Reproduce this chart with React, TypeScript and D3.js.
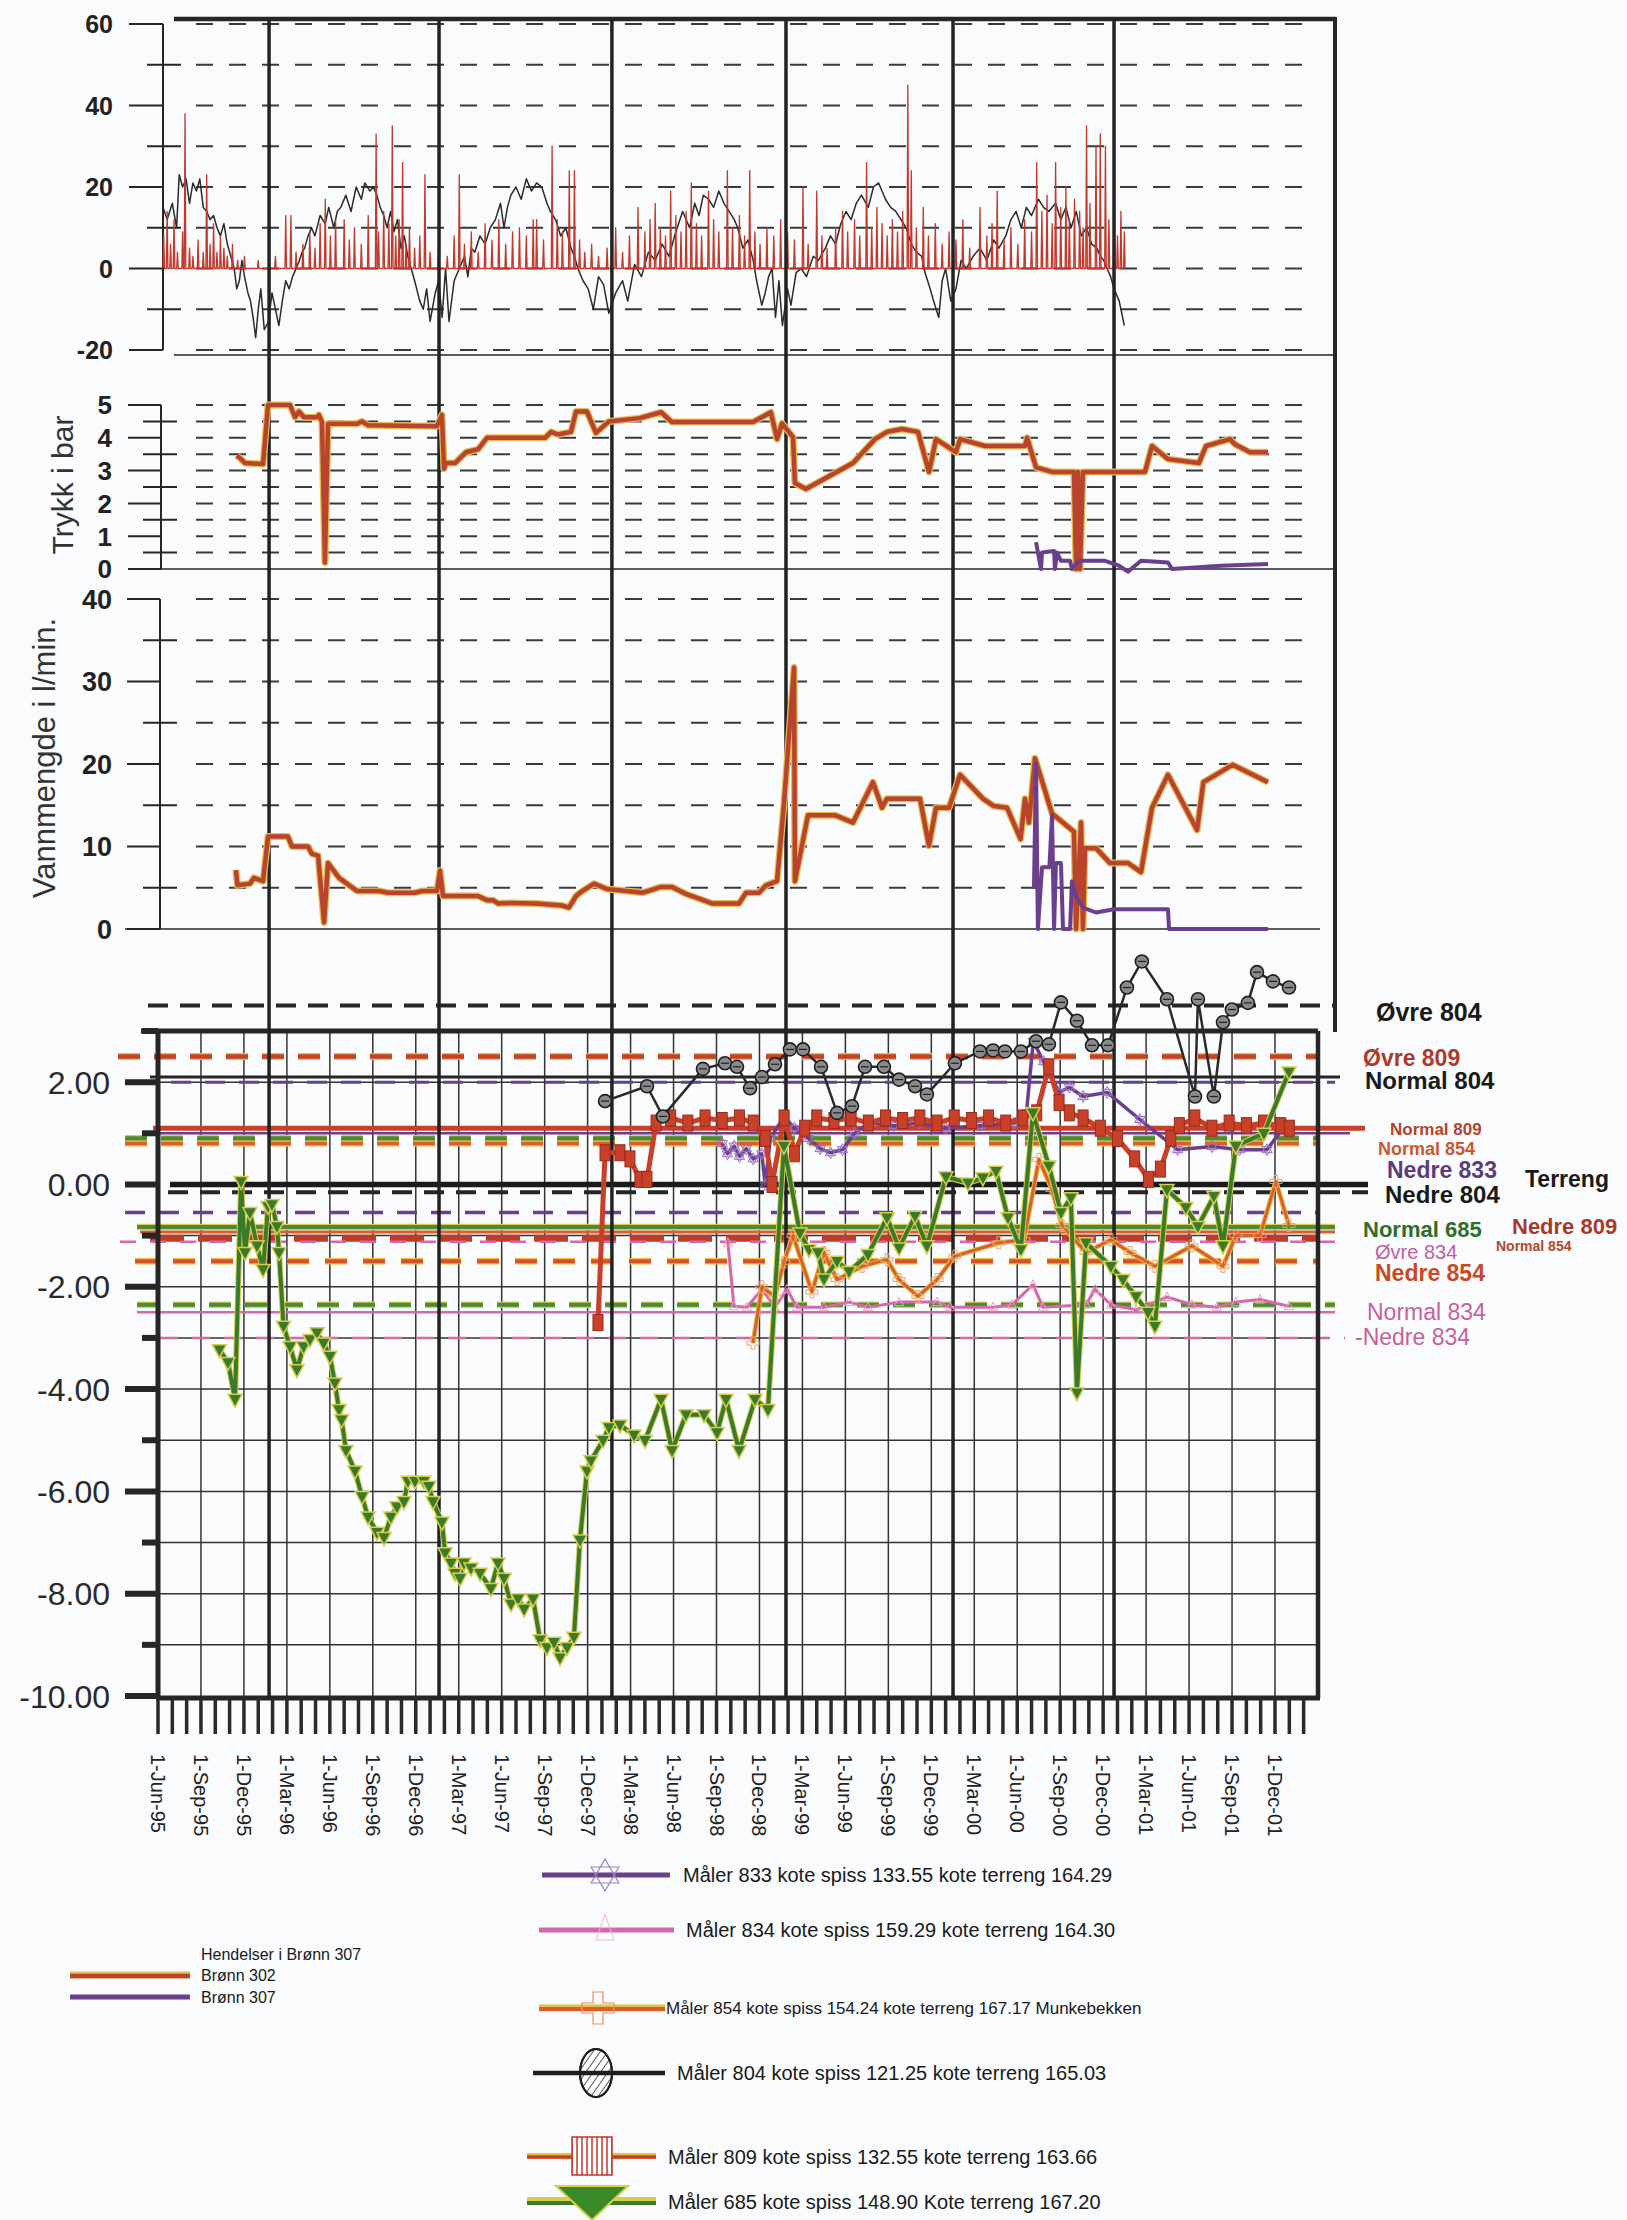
import React from "react";
import * as d3 from "d3";

type P = [number, number];

// ---------- DATA (decimal year, value) ----------
const temperature: P[] = [
  [1995.446,15],[1995.47,12],[1995.50,16],[1995.525,10],[1995.54,23],[1995.56,20],[1995.58,22],[1995.60,16],[1995.62,21],[1995.64,19],[1995.66,22],[1995.68,15],[1995.70,14],[1995.72,12],[1995.74,13],[1995.76,10],[1995.78,8],[1995.80,11],[1995.82,6],[1995.84,3],[1995.86,0],[1995.875,-5],[1995.89,-3],[1995.905,2],[1995.92,-2],[1995.94,-6],[1995.955,-8],[1995.97,-12],[1995.985,-17],[1996.0,-10],[1996.015,-5],[1996.035,-15],[1996.06,-13],[1996.08,-6],[1996.10,-10],[1996.12,-14],[1996.14,-8],[1996.16,-3],[1996.18,-5],[1996.20,-2],[1996.22,0],[1996.24,2],[1996.255,4],[1996.27,5],[1996.29,8],[1996.31,10],[1996.33,8],[1996.36,13],[1996.39,11],[1996.41,15],[1996.44,10],[1996.46,14],[1996.48,15],[1996.51,18],[1996.54,14],[1996.57,20],[1996.60,17],[1996.62,21],[1996.65,19],[1996.67,20],[1996.69,18],[1996.71,15],[1996.73,13],[1996.75,10],[1996.77,14],[1996.79,9],[1996.81,12],[1996.83,5],[1996.85,8],[1996.87,3],[1996.89,0],[1996.91,-3],[1996.94,-8],[1996.96,-10],[1996.98,-5],[1997.0,-13],[1997.03,-6],[1997.05,-3],[1997.07,-12],[1997.09,0],[1997.11,-13],[1997.14,-3],[1997.17,0],[1997.20,3],[1997.22,-2],[1997.24,5],[1997.26,4],[1997.29,8],[1997.32,6],[1997.35,10],[1997.38,12],[1997.41,16],[1997.43,10],[1997.45,15],[1997.47,18],[1997.50,20],[1997.53,17],[1997.56,22],[1997.59,19],[1997.62,21],[1997.65,20],[1997.68,16],[1997.70,14],[1997.73,12],[1997.76,8],[1997.79,10],[1997.82,5],[1997.84,3],[1997.86,0],[1997.89,-3],[1997.92,-5],[1997.95,-10],[1997.98,-2],[1998.01,-4],[1998.04,-11],[1998.08,-6],[1998.12,-3],[1998.15,-8],[1998.19,1],[1998.23,-2],[1998.27,4],[1998.31,2],[1998.35,6],[1998.39,3],[1998.43,9],[1998.47,14],[1998.51,10],[1998.54,16],[1998.565,13],[1998.59,18],[1998.62,17],[1998.65,15],[1998.68,19],[1998.71,16],[1998.74,14],[1998.77,12],[1998.79,10],[1998.82,5],[1998.85,7],[1998.88,2],[1998.90,-3],[1998.93,-9],[1998.95,-6],[1998.97,-2],[1998.99,0],[1999.01,-12],[1999.03,-3],[1999.05,-14],[1999.08,-5],[1999.10,-9],[1999.13,-1],[1999.16,0],[1999.19,-2],[1999.23,3],[1999.26,2],[1999.30,5],[1999.33,8],[1999.36,6],[1999.39,11],[1999.42,14],[1999.45,12],[1999.48,16],[1999.51,18],[1999.55,15],[1999.58,20],[1999.61,21],[1999.65,17],[1999.68,15],[1999.71,14],[1999.74,12],[1999.77,10],[1999.80,6],[1999.83,4],[1999.86,3],[1999.88,-1],[1999.91,-5],[1999.93,-8],[1999.96,-12],[1999.98,-3],[2000.0,0],[2000.03,-8],[2000.06,-5],[2000.09,2],[2000.12,0],[2000.16,3],[2000.20,5],[2000.24,2],[2000.28,7],[2000.31,5],[2000.35,8],[2000.38,12],[2000.41,14],[2000.44,10],[2000.47,15],[2000.50,13],[2000.54,17],[2000.57,15],[2000.60,14],[2000.64,16],[2000.67,12],[2000.70,15],[2000.73,10],[2000.76,14],[2000.79,8],[2000.82,10],[2000.85,6],[2000.88,5],[2000.90,3],[2000.92,2],[2000.94,0],[2000.96,-2],[2000.98,-5],[2001.01,-8],[2001.04,-14]
];

const precipitation: P[] = [
  [1995.45,8],[1995.47,14],[1995.49,6],[1995.51,12],[1995.53,4],[1995.56,9],[1995.574,38],[1995.60,5],[1995.62,3],[1995.65,7],[1995.68,4],[1995.70,23],[1995.72,6],[1995.74,11],[1995.76,4],[1995.78,8],[1995.80,5],[1995.82,3],[1995.85,6],[1995.88,2],[1995.92,3],[1996.0,2],[1996.10,3],[1996.16,13],[1996.19,13],[1996.22,4],[1996.26,6],[1996.30,9],[1996.33,5],[1996.36,11],[1996.39,17],[1996.42,8],[1996.45,12],[1996.50,12],[1996.53,7],[1996.56,10],[1996.60,6],[1996.64,13],[1996.686,33],[1996.70,9],[1996.73,14],[1996.76,11],[1996.78,35],[1996.80,8],[1996.82,12],[1996.84,26],[1996.86,6],[1996.88,10],[1996.91,5],[1996.94,8],[1996.97,23],[1997.00,4],[1997.05,6],[1997.10,3],[1997.14,8],[1997.17,23],[1997.20,6],[1997.24,9],[1997.28,4],[1997.32,11],[1997.36,7],[1997.40,12],[1997.44,6],[1997.48,9],[1997.52,10],[1997.56,8],[1997.60,12],[1997.62,12],[1997.66,7],[1997.71,30],[1997.74,12],[1997.77,9],[1997.81,24],[1997.84,24],[1997.87,7],[1997.90,4],[1997.94,6],[1997.98,3],[1998.03,5],[1998.08,10],[1998.12,4],[1998.16,8],[1998.21,15],[1998.25,9],[1998.28,12],[1998.31,16],[1998.34,10],[1998.37,8],[1998.40,19],[1998.43,13],[1998.46,9],[1998.49,14],[1998.52,21],[1998.55,11],[1998.58,8],[1998.62,19],[1998.65,12],[1998.68,9],[1998.73,24],[1998.76,10],[1998.80,13],[1998.83,8],[1998.86,24],[1998.89,9],[1998.92,6],[1998.96,10],[1999.0,8],[1999.04,12],[1999.08,9],[1999.12,7],[1999.17,20],[1999.20,6],[1999.25,19],[1999.28,8],[1999.31,5],[1999.36,10],[1999.40,14],[1999.43,9],[1999.47,12],[1999.50,8],[1999.54,26],[1999.57,10],[1999.60,15],[1999.63,11],[1999.66,8],[1999.69,12],[1999.72,9],[1999.75,14],[1999.78,45],[1999.80,24],[1999.83,10],[1999.87,15],[1999.90,8],[1999.94,11],[1999.98,6],[2000.02,9],[2000.06,7],[2000.10,12],[2000.14,5],[2000.20,15],[2000.24,8],[2000.27,11],[2000.30,19],[2000.34,7],[2000.38,10],[2000.42,6],[2000.46,12],[2000.50,9],[2000.53,26],[2000.56,14],[2000.59,18],[2000.62,11],[2000.64,26],[2000.67,15],[2000.70,20],[2000.72,12],[2000.75,17],[2000.78,14],[2000.80,10],[2000.82,35],[2000.84,16],[2000.875,30],[2000.90,33],[2000.93,30],[2000.95,12],[2000.98,17],[2001.0,8],[2001.02,14],[2001.04,9]
];

const pressure302: P[] = [
  [1995.876,3.46],[1995.900,3.35],[1995.923,3.23],[1996.028,3.2],[1996.057,5.0],[1996.185,5.0],[1996.214,4.63],[1996.237,4.8],[1996.266,4.63],[1996.342,4.63],[1996.353,4.7],[1996.371,4.48],[1996.388,0.2],[1996.406,4.43],[1996.575,4.43],[1996.604,4.5],[1996.639,4.38],[1997.040,4.35],[1997.069,4.7],[1997.081,3.06],[1997.093,3.23],[1997.145,3.23],[1997.209,3.56],[1997.279,3.65],[1997.331,4.0],[1997.669,4.0],[1997.704,4.18],[1997.744,4.1],[1997.820,4.18],[1997.849,4.8],[1997.913,4.8],[1997.965,4.15],[1998.041,4.5],[1998.22,4.6],[1998.344,4.78],[1998.408,4.48],[1998.879,4.48],[1998.983,4.78],[1999.019,3.96],[1999.048,4.44],[1999.112,4.02],[1999.123,2.62],[1999.187,2.44],[1999.461,3.23],[1999.589,3.96],[1999.659,4.18],[1999.746,4.27],[1999.839,4.18],[1999.903,2.96],[1999.944,3.96],[2000.060,3.56],[2000.084,3.96],[2000.229,3.75],[2000.462,3.75],[2000.474,4.0],[2000.526,3.1],[2000.619,2.96],[2000.747,2.96],[2000.759,0.0],[2000.770,2.96],[2000.782,0.0],[2000.799,2.96],[2001.160,2.96],[2001.201,3.75],[2001.294,3.35],[2001.474,3.23],[2001.515,3.75],[2001.655,3.96],[2001.684,3.8],[2001.771,3.56],[2001.876,3.56]
];

const pressure307: P[] = [
  [2000.526,0.82],[2000.555,0.0],[2000.561,0.5],[2000.631,0.55],[2000.636,0.0],[2000.648,0.5],[2000.671,0.25],[2000.724,0.25],[2000.735,0.0],[2000.776,0.25],[2000.927,0.25],[2001.009,0.1],[2001.061,-0.08],[2001.137,0.25],[2001.294,0.2],[2001.317,0.0],[2001.602,0.1],[2001.876,0.15]
];

const flow302: P[] = [
  [1995.870,7.15],[1995.879,5.3],[1995.952,5.5],[1995.975,6.2],[1996.028,5.8],[1996.057,11.2],[1996.173,11.2],[1996.196,10.0],[1996.289,10.0],[1996.313,9.1],[1996.348,8.9],[1996.383,0.8],[1996.406,8.0],[1996.470,6.2],[1996.575,4.6],[1996.703,4.6],[1996.755,4.4],[1996.912,4.4],[1996.953,4.6],[1997.040,4.6],[1997.058,7.1],[1997.075,4.0],[1997.279,4.0],[1997.331,3.5],[1997.366,3.5],[1997.395,3.1],[1997.459,3.15],[1997.616,3.1],[1997.767,2.85],[1997.808,2.6],[1997.849,4.0],[1997.872,4.4],[1997.954,5.5],[1998.029,4.85],[1998.239,4.4],[1998.344,5.1],[1998.408,5.1],[1998.489,4.25],[1998.641,3.1],[1998.798,3.1],[1998.838,4.4],[1998.914,4.4],[1998.955,5.3],[1999.019,5.8],[1999.059,15.1],[1999.118,31.7],[1999.123,5.8],[1999.199,13.8],[1999.356,13.8],[1999.461,12.9],[1999.577,17.8],[1999.630,14.7],[1999.659,15.8],[1999.851,15.8],[1999.903,10.1],[1999.944,14.7],[2000.020,14.7],[2000.084,18.7],[2000.217,15.8],[2000.281,14.9],[2000.357,14.7],[2000.436,10.9],[2000.462,15.8],[2000.485,12.9],[2000.520,20.7],[2000.619,14.0],[2000.747,11.8],[2000.759,0],[2000.788,12.9],[2000.799,0],[2000.811,9.8],[2000.875,9.8],[2000.956,8.0],[2001.061,8.0],[2001.137,6.9],[2001.201,14.7],[2001.294,18.7],[2001.463,12.0],[2001.500,17.8],[2001.670,19.9],[2001.876,17.8]
];

const flow307: P[] = [
  [2000.514,4.85],[2000.526,20.1],[2000.537,0],[2000.561,7.5],[2000.604,7.5],[2000.619,13.8],[2000.631,0],[2000.642,8.0],[2000.671,8.0],[2000.683,0],[2000.724,0],[2000.735,5.8],[2000.759,4.0],[2000.799,2.6],[2000.875,2.0],[2000.980,2.4],[2001.294,2.4],[2001.300,0],[2001.876,0]
];

const maler685: P[] = [
  [1995.774,-3.23],[1995.824,-3.48],[1995.865,-4.2],[1995.900,0.06],[1995.923,-1.33],[1995.952,-0.55],[1995.993,-1.2],[1996.028,-1.66],[1996.057,-0.43],[1996.08,-0.39],[1996.109,-0.82],[1996.121,-1.33],[1996.147,-2.77],[1996.185,-3.17],[1996.225,-3.62],[1996.264,-3.17],[1996.301,-3.03],[1996.342,-2.9],[1996.38,-3.1],[1996.417,-3.36],[1996.446,-3.88],[1996.47,-4.4],[1996.485,-4.6],[1996.511,-5.2],[1996.563,-5.6],[1996.604,-6.1],[1996.639,-6.5],[1996.691,-6.8],[1996.732,-6.9],[1996.772,-6.5],[1996.807,-6.3],[1996.848,-6.2],[1996.871,-5.8],[1996.912,-5.8],[1996.964,-5.8],[1996.993,-5.9],[1997.017,-6.2],[1997.069,-6.6],[1997.087,-7.2],[1997.122,-7.4],[1997.145,-7.6],[1997.174,-7.7],[1997.197,-7.4],[1997.238,-7.5],[1997.291,-7.6],[1997.354,-7.9],[1997.395,-7.4],[1997.43,-7.7],[1997.471,-8.2],[1997.512,-8.1],[1997.547,-8.3],[1997.599,-8.1],[1997.64,-8.9],[1997.68,-9.05],[1997.721,-8.95],[1997.756,-9.25],[1997.797,-9.05],[1997.837,-8.85],[1997.872,-6.95],[1997.913,-5.6],[1997.936,-5.4],[1998.006,-5.0],[1998.041,-4.75],[1998.105,-4.7],[1998.187,-4.9],[1998.251,-5.0],[1998.344,-4.2],[1998.408,-5.2],[1998.489,-4.5],[1998.594,-4.5],[1998.67,-4.85],[1998.722,-4.2],[1998.798,-5.2],[1998.891,-4.2],[1998.966,-4.4],[1999.059,0.75],[1999.152,-0.95],[1999.205,-1.27],[1999.257,-1.33],[1999.292,-1.85],[1999.368,-1.5],[1999.438,-1.7],[1999.548,-1.37],[1999.659,-0.65],[1999.729,-1.24],[1999.822,-0.62],[1999.891,-1.2],[2000.002,0.15],[2000.130,0.03],[2000.217,0.13],[2000.293,0.26],[2000.363,-0.65],[2000.438,-1.27],[2000.508,1.4],[2000.601,0.36],[2000.671,-0.55],[2000.729,-0.26],[2000.764,-4.07],[2000.817,-1.14],[2000.962,-1.6],[2001.032,-1.86],[2001.108,-2.19],[2001.178,-2.5],[2001.218,-2.77],[2001.288,-0.1],[2001.398,-0.45],[2001.468,-0.82],[2001.561,-0.23],[2001.614,-1.2],[2001.689,0.75],[2001.852,1.0],[2001.998,2.2]
];

const maler804: P[] = [
  [1998.018,1.63],[1998.262,1.92],[1998.355,1.33],[1998.588,2.26],[1998.716,2.37],[1998.786,2.3],[1998.862,1.88],[1998.931,2.1],[1999.007,2.35],[1999.094,2.64],[1999.170,2.64],[1999.275,2.3],[1999.368,1.4],[1999.455,1.53],[1999.531,2.3],[1999.641,2.3],[1999.729,2.05],[1999.822,1.92],[1999.891,1.76],[2000.054,2.37],[2000.200,2.6],[2000.276,2.62],[2000.345,2.6],[2000.438,2.6],[2000.526,2.8],[2000.601,2.74],[2000.671,3.56],[2000.764,3.2],[2000.852,2.72],[2000.945,2.72],[2001.055,3.85],[2001.142,4.36],[2001.288,3.62],[2001.451,1.72],[2001.468,3.62],[2001.561,1.72],[2001.614,3.17],[2001.666,3.42],[2001.759,3.55],[2001.812,4.15],[2001.905,3.97],[2001.998,3.85]
];

const maler809: P[] = [
  [1997.977,-2.7],[1998.018,0.62],[1998.105,0.62],[1998.163,0.5],[1998.221,0.1],[1998.262,0.1],[1998.315,1.2],[1998.40,1.3],[1998.50,1.2],[1998.60,1.3],[1998.70,1.25],[1998.80,1.3],[1998.88,1.2],[1998.95,0.9],[1998.99,0.0],[1999.06,1.3],[1999.12,0.6],[1999.18,1.1],[1999.25,1.3],[1999.35,1.25],[1999.45,1.3],[1999.55,1.2],[1999.65,1.3],[1999.75,1.25],[1999.85,1.3],[1999.95,1.2],[2000.05,1.3],[2000.15,1.25],[2000.25,1.3],[2000.35,1.2],[2000.45,1.3],[2000.53,1.4],[2000.60,2.3],[2000.66,1.6],[2000.72,1.4],[2000.80,1.3],[2000.90,1.1],[2001.00,0.9],[2001.10,0.5],[2001.18,0.1],[2001.25,0.3],[2001.31,0.9],[2001.36,1.15],[2001.45,1.3],[2001.55,1.1],[2001.65,1.2],[2001.75,1.15],[2001.85,1.2],[2001.95,1.15],[2002.0,1.1]
];

const maler833: P[] = [
  [1998.70,0.8],[1998.73,0.6],[1998.77,0.75],[1998.80,0.55],[1998.84,0.7],[1998.88,0.5],[1998.93,0.6],[1998.95,0.0],[1998.98,0.9],[1999.06,1.33],[1999.12,1.1],[1999.20,0.9],[1999.27,0.7],[1999.33,0.62],[1999.40,0.68],[1999.47,1.0],[1999.55,1.2],[1999.70,1.15],[1999.85,1.2],[2000.00,1.1],[2000.20,1.15],[2000.40,1.2],[2000.47,1.4],[2000.51,2.8],[2000.57,2.4],[2000.60,2.2],[2000.66,1.8],[2000.72,1.9],[2000.80,1.72],[2000.94,1.8],[2001.13,1.27],[2001.35,0.68],[2001.55,0.74],[2001.71,0.68],[2001.87,0.68],[2001.97,1.13]
];

const maler834: P[] = [
  [1998.733,-1.14],[1998.768,-2.38],[1998.844,-2.4],[1998.931,-2.05],[1999.007,-2.4],[1999.077,-2.05],[1999.135,-2.4],[1999.292,-2.4],[1999.438,-2.3],[1999.548,-2.4],[1999.729,-2.3],[1999.95,-2.3],[2000.026,-2.4],[2000.276,-2.4],[2000.386,-2.35],[2000.508,-1.96],[2000.566,-2.4],[2000.817,-2.35],[2000.869,-2.05],[2000.962,-2.35],[2001.108,-2.45],[2001.288,-2.2],[2001.433,-2.35],[2001.578,-2.4],[2001.689,-2.3],[2001.829,-2.25],[2001.998,-2.38]
];

const maler854: P[] = [
  [1998.879,-3.1],[1998.931,-2.0],[1999.007,-2.2],[1999.059,-1.52],[1999.112,-1.0],[1999.222,-2.1],[1999.292,-1.33],[1999.368,-1.86],[1999.514,-1.6],[1999.659,-1.47],[1999.729,-1.86],[1999.839,-2.19],[1999.950,-1.86],[2000.054,-1.4],[2000.31,-1.14],[2000.456,-1.08],[2000.543,0.49],[2000.619,-0.1],[2000.677,-0.8],[2000.817,-1.33],[2000.962,-1.08],[2001.073,-1.33],[2001.218,-1.6],[2001.433,-1.2],[2001.614,-1.6],[2001.689,-1.0],[2001.829,-1.0],[2001.922,0.06],[2001.998,-0.8]
];

const eventDates = [1996.063, 1997.052, 1998.058, 1999.071, 2000.043, 2000.98];

const tempTicks = [60, 40, 20, 0, -20];
const tempMinor = [50, 30, 10, -10];
const tempGrid = [60, 50, 40, 30, 20, 10, 0, -10, -20];
const pressureTicks = [5, 4, 3, 2, 1, 0];
const pressureGrid = [5, 4.5, 4, 3.5, 3, 2.5, 2, 1.5, 1, 0.5];
const flowTicks = [40, 30, 20, 10, 0];
const flowGrid = [40, 35, 30, 25, 20, 15, 10, 5];
const levelTicks = [2, 0, -2, -4, -6, -8, -10];
const levelLabels = ["2.00", "0.00", "-2.00", "-4.00", "-6.00", "-8.00", "-10.00"];
const levelMinor = [3, 1, -1, -3, -5, -7, -9];
const levelGrid = [2, 1, -1, -2, -3, -4, -5, -6, -7, -8, -9];

const dateLabels = [
  "1-Jun-95","1-Sep-95","1-Dec-95","1-Mar-96","1-Jun-96","1-Sep-96","1-Dec-96","1-Mar-97","1-Jun-97","1-Sep-97","1-Dec-97","1-Mar-98","1-Jun-98","1-Sep-98","1-Dec-98","1-Mar-99","1-Jun-99","1-Sep-99","1-Dec-99","1-Mar-00","1-Jun-00","1-Sep-00","1-Dec-00","1-Mar-01","1-Jun-01","1-Sep-01","1-Dec-01"
];

const refNames = ["Øvre 804","Øvre 809","Normal 804","Øvre 833","Normal 809","Normal 833","Øvre 685","Øvre 854","Terreng","Nedre 804","Nedre 833","Normal 685","Normal 854","Nedre 809","Øvre 834","Nedre 854","Nedre 685","Normal 834","Nedre 834"];
const refValues = [3.5, 2.5, 2.1, 2.0, 1.1, 1.0, 0.9, 0.8, 0.0, -0.15, -0.55, -0.83, -0.93, -1.05, -1.12, -1.5, -2.35, -2.5, -3.0];

const legendTexts = [
  "Måler 833  kote spiss 133.55 kote terreng 164.29",
  "Måler 834 kote spiss 159.29 kote terreng 164.30",
  "Måler 854 kote spiss 154.24 kote terreng 167.17 Munkebekken",
  "Måler 804 kote spiss 121.25 kote terreng 165.03",
  "Måler 809 kote spiss 132.55 kote terreng 163.66",
  "Måler 685 kote spiss 148.90 Kote terreng 167.20",
];
const wellLegend = ["Hendelser i Brønn 307", "Brønn 302", "Brønn 307"];

// ---------- STYLE ----------
const FF = "'Liberation Sans', Arial, Helvetica, sans-serif";
const RED = "#b9432d";
const PURPLE = "#6a3f8c";
const PINK = "#d468a8";
const ORANGE = "#d9602c";
const GREEN = "#3a7a2a";
const YELLOW = "#d6cf4c";
const INK = "#262626";

const refStyle: Record<string, any> = {
  "Øvre 804": { c: INK, w: 4, d: "20 12", x1: 148, x2: 1335 },
  "Øvre 809": { c: "#c8402a", w: 4.5, d: "22 14", x1: 118, x2: 1318, u: "#e8c040" },
  "Normal 804": { c: INK, w: 3, x1: 150, x2: 1340 },
  "Øvre 833": { c: PURPLE, w: 3, d: "20 14", x1: 137, x2: 1335 },
  "Normal 809": { c: "#c8402a", w: 5, x1: 153, x2: 1365 },
  "Normal 833": { c: PURPLE, w: 2.5, x1: 155, x2: 1350 },
  "Øvre 685": { c: "#4a8a3a", w: 4.5, d: "22 14", x1: 125, x2: 1320, u: YELLOW },
  "Øvre 854": { c: ORANGE, w: 3.5, d: "22 14", x1: 125, x2: 1320, u: "#e8c040" },
  "Terreng": { c: "#1a1a1a", w: 5.5, x1: 170, x2: 1368 },
  "Nedre 804": { c: INK, w: 4, d: "20 12", x1: 168, x2: 1368 },
  "Nedre 833": { c: PURPLE, w: 3.5, d: "20 14", x1: 125, x2: 1320 },
  "Normal 685": { c: "#4a8a3a", w: 4, x1: 137, x2: 1335, u: YELLOW },
  "Normal 854": { c: ORANGE, w: 3, x1: 140, x2: 1335 },
  "Nedre 809": { c: "#c03a28", w: 7, d: "34 14", x1: 150, x2: 1320 },
  "Øvre 834": { c: PINK, w: 2.5, d: "16 14", x1: 120, x2: 1335 },
  "Nedre 854": { c: "#d8502a", w: 4, d: "22 16", x1: 135, x2: 1320, u: "#e8c040" },
  "Nedre 685": { c: "#4a8a3a", w: 4, d: "22 14", x1: 137, x2: 1335, u: YELLOW },
  "Normal 834": { c: PINK, w: 2.5, x1: 137, x2: 1335 },
  "Nedre 834": { c: PINK, w: 2.5, d: "18 14", x1: 160, x2: 1345 },
};

const rightLabelLayout = [
  { t: "Øvre 804", x: 1376, y: 1021, c: "#1a1a1a", s: 25, b: true },
  { t: "Øvre 809", x: 1363, y: 1066, c: "#b03a2a", s: 23, b: true },
  { t: "Normal 804", x: 1365, y: 1089, c: "#1a1a1a", s: 24, b: true },
  { t: "Normal 809", x: 1390, y: 1135, c: "#b5432e", s: 17, b: true },
  { t: "Normal 854", x: 1378, y: 1155, c: "#c95a30", s: 18, b: true },
  { t: "Nedre 833", x: 1387, y: 1178, c: "#5a3d7a", s: 23, b: true },
  { t: "Terreng", x: 1525, y: 1187, c: "#1a1a1a", s: 23, b: true, i: false },
  { t: "Nedre 804", x: 1385, y: 1203, c: "#1a1a1a", s: 24, b: true },
  { t: "Normal 685", x: 1363, y: 1237, c: "#2f6e2a", s: 22, b: true },
  { t: "Nedre 809", x: 1512, y: 1234, c: "#a83a2a", s: 22, b: true },
  { t: "Normal 854", x: 1496, y: 1251, c: "#b04a2a", s: 14, b: true },
  { t: "Øvre 834", x: 1375, y: 1259, c: "#c060a0", s: 20, b: false },
  { t: "Nedre 854", x: 1375, y: 1281, c: "#c84a24", s: 23, b: true },
  { t: "Normal 834", x: 1367, y: 1320, c: "#c8609c", s: 23, b: false },
  { t: "-Nedre 834", x: 1355, y: 1345, c: "#c8609c", s: 23, b: false },
];

const MONTHS: Record<string, number> = { Jan: 0, Feb: 1, Mar: 2, Apr: 3, May: 4, Jun: 5, Jul: 6, Aug: 7, Sep: 8, Oct: 9, Nov: 10, Dec: 11 };
function parseLabel(s: string): number {
  const p = s.split("-");
  const yy = +p[2];
  return (yy < 50 ? 2000 + yy : 1900 + yy) + MONTHS[p[1]] / 12;
}

function starPath(s: number) {
  const a = (k: number) => [Math.sin((k * Math.PI) / 3) * s, -Math.cos((k * Math.PI) / 3) * s];
  const t1 = [a(0), a(2), a(4)];
  const t2 = [a(1), a(3), a(5)];
  const f = (t: number[][]) => `M${t[0][0]},${t[0][1]}L${t[1][0]},${t[1][1]}L${t[2][0]},${t[2][1]}Z`;
  return f(t1) + f(t2);
}

export default function App() {
  const x = d3.scaleLinear().domain([1995 + 5 / 12, 2001 + 11 / 12]).range([158, 1275]);
  const yT = d3.scaleLinear().domain([-20, 60]).range([350, 24]);
  const yP = d3.scaleLinear().domain([0, 5]).range([569, 405]);
  const yF = d3.scaleLinear().domain([0, 40]).range([929, 599]);
  const yB = d3.scaleLinear().domain([-10, 3]).range([1696, 1031]);

  const mk = (ys: d3.ScaleLinear<number, number>) =>
    d3.line<P>().x((d) => x(d[0])).y((d) => ys(d[1]));
  const lT = mk(yT), lP = mk(yP), lF = mk(yF), lB = mk(yB);

  const precipPts: P[] = [];
  precipitation.forEach(([t, v]) => {
    precipPts.push([t - 0.0045, 0], [t, v], [t + 0.0045, 0]);
  });

  const bottomY = yB(-10) + 2;
  const leftB = 158, rightB = 1318;

  const monthTicks: number[] = [];
  for (let y = 1995, m = 5; y + m / 12 <= 2002 + 1 / 12 + 1e-6; ) {
    monthTicks.push(y + m / 12);
    m++;
    if (m === 12) { m = 0; y++; }
  }

  const dashedGrid = (ys: number[], sc: d3.ScaleLinear<number, number>, key: string) =>
    ys.map((v) => (
      <line key={key + v} x1={196} x2={1306} y1={sc(v)} y2={sc(v)} stroke="#3a3a3a" strokeWidth={2} strokeDasharray="17 16" />
    ));

  const redLine = (d: string | null, k: string) => (
    <g key={k}>
      <path d={d || ""} fill="none" stroke="#e3bf52" strokeWidth={7} strokeLinejoin="round" />
      <path d={d || ""} fill="none" stroke={RED} strokeWidth={4.5} strokeLinejoin="round" />
    </g>
  );

  return (
    <svg width={1627} height={2220} style={{ position: "absolute", left: 0, top: 0, background: "#f9fbfd" }} fontFamily={FF}>
      <defs>
        <pattern id="diag" width="6" height="6" patternUnits="userSpaceOnUse" patternTransform="rotate(35)">
          <line x1="0" y1="0" x2="0" y2="6" stroke="#222" strokeWidth="1.5" />
        </pattern>
        <pattern id="vh" width="5" height="10" patternUnits="userSpaceOnUse">
          <line x1="2" y1="0" x2="2" y2="10" stroke="#c0392b" strokeWidth="1.5" />
        </pattern>
      </defs>
      <rect x={0} y={0} width={1627} height={2220} fill="#f9fbfd" />

      {/* ===== Panel 1: temperature / precipitation ===== */}
      {dashedGrid(tempGrid, yT, "tg")}
      <line x1={163} x2={163} y1={yT(60)} y2={yT(-20)} stroke={INK} strokeWidth={2} />
      {tempTicks.map((v) => (
        <g key={"tt" + v}>
          <line x1={129} x2={163} y1={yT(v)} y2={yT(v)} stroke={INK} strokeWidth={2} />
          <text x={113} y={yT(v)} dy="0.36em" textAnchor="end" fontSize={25} fontWeight="bold" fill="#222">{v}</text>
        </g>
      ))}
      {tempMinor.map((v) => (
        <line key={"tm" + v} x1={147} x2={181} y1={yT(v)} y2={yT(v)} stroke={INK} strokeWidth={2} />
      ))}
      <line x1={174} x2={1336} y1={19} y2={19} stroke={INK} strokeWidth={4.5} />
      <line x1={174} x2={1335} y1={355} y2={355} stroke={INK} strokeWidth={1.5} />
      <path d={lT(temperature) || ""} fill="none" stroke="#2b2b2b" strokeWidth={1.5} strokeLinejoin="round" />
      <path d={lT(precipPts) || ""} fill="none" stroke="#c0392b" strokeWidth={1.3} strokeLinejoin="round" />

      {/* ===== Panel 2: pressure ===== */}
      {dashedGrid(pressureGrid, yP, "pg")}
      <line x1={161} x2={161} y1={yP(5)} y2={yP(0)} stroke={INK} strokeWidth={2} />
      {pressureTicks.map((v) => (
        <g key={"pt" + v}>
          <line x1={128} x2={161} y1={yP(v)} y2={yP(v)} stroke={INK} strokeWidth={2} />
          <text x={112} y={yP(v)} dy="0.36em" textAnchor="end" fontSize={26} fontWeight="bold" fill="#222">{v}</text>
        </g>
      ))}
      {pressureGrid.filter((v) => v % 1 !== 0).map((v) => (
        <line key={"pm" + v} x1={143} x2={177} y1={yP(v)} y2={yP(v)} stroke={INK} strokeWidth={2} />
      ))}
      <line x1={128} x2={1335} y1={yP(0)} y2={yP(0)} stroke={INK} strokeWidth={1.5} />
      <text transform={`translate(73,${485}) rotate(-90)`} textAnchor="middle" fontSize={30} fill="#333">Trykk i bar</text>

      {/* ===== Panel 3: flow ===== */}
      {dashedGrid(flowGrid, yF, "fg")}
      <line x1={160} x2={160} y1={yF(40)} y2={yF(0)} stroke={INK} strokeWidth={2} />
      {flowTicks.map((v) => (
        <g key={"ft" + v}>
          <line x1={127} x2={160} y1={yF(v)} y2={yF(v)} stroke={INK} strokeWidth={2} />
          <text x={112} y={yF(v)} dy="0.36em" textAnchor="end" fontSize={27} fontWeight="bold" fill="#222">{v}</text>
        </g>
      ))}
      {flowGrid.filter((v) => v % 10 !== 0).map((v) => (
        <line key={"fm" + v} x1={143} x2={177} y1={yF(v)} y2={yF(v)} stroke={INK} strokeWidth={2} />
      ))}
      <line x1={125} x2={1320} y1={yF(0)} y2={yF(0)} stroke={INK} strokeWidth={1.5} />
      <text transform={`translate(55,${758}) rotate(-90)`} textAnchor="middle" fontSize={31} fill="#333">Vannmengde i l/min.</text>

      {/* right frame of upper panels */}
      <line x1={1335} x2={1335} y1={17} y2={1032} stroke={INK} strokeWidth={4} />

      {/* ===== Panel 4: groundwater levels ===== */}
      {levelGrid.map((v) => (
        <line key={"lg" + v} x1={leftB} x2={rightB} y1={yB(v)} y2={yB(v)} stroke="#333" strokeWidth={1.5} />
      ))}
      {dateLabels.slice(1).map((s) => (
        <line key={"vg" + s} x1={x(parseLabel(s))} x2={x(parseLabel(s))} y1={yB(3)} y2={bottomY} stroke="#333" strokeWidth={1.5} />
      ))}

      {refNames.map((n, i) => {
        const st = refStyle[n];
        const yy = yB(refValues[i]);
        return (
          <g key={"ref" + n}>
            {st.u && <line x1={st.x1} x2={st.x2} y1={yy} y2={yy} stroke={st.u} strokeWidth={st.w + 2.5} strokeDasharray={st.d} />}
            <line x1={st.x1} x2={st.x2} y1={yy} y2={yy} stroke={st.c} strokeWidth={st.w} strokeDasharray={st.d} />
          </g>
        );
      })}

      <line x1={141} x2={rightB} y1={yB(3)} y2={yB(3)} stroke={INK} strokeWidth={5} />
      <line x1={leftB} x2={leftB} y1={yB(3)} y2={bottomY} stroke={INK} strokeWidth={5} />
      <line x1={rightB} x2={rightB} y1={yB(3)} y2={bottomY} stroke={INK} strokeWidth={4.5} />
      <line x1={leftB - 2} x2={rightB + 2} y1={bottomY} y2={bottomY} stroke={INK} strokeWidth={5} />
      {levelTicks.map((v, i) => (
        <g key={"lt" + v}>
          <line x1={125} x2={leftB} y1={yB(v)} y2={yB(v)} stroke={INK} strokeWidth={6} />
          <text x={110} y={yB(v)} dy="0.36em" textAnchor="end" fontSize={32} fill="#2a2a2a">{levelLabels[i]}</text>
        </g>
      ))}
      {levelMinor.map((v) => (
        <line key={"lm" + v} x1={142} x2={leftB} y1={yB(v)} y2={yB(v)} stroke={INK} strokeWidth={6} />
      ))}
      {monthTicks.map((t) => (
        <line key={"mt" + t} x1={x(t)} x2={x(t)} y1={bottomY} y2={bottomY + 36} stroke="#2a2a2a" strokeWidth={3.5} />
      ))}
      {dateLabels.map((s) => (
        <text key={"dl" + s} transform={`translate(${x(parseLabel(s))},1754) rotate(90)`} dy="0.35em" fontSize={20} fill="#222">{s}</text>
      ))}

      {eventDates.map((t) => (
        <line key={"ev" + t} x1={x(t)} x2={x(t)} y1={19} y2={bottomY} stroke="#222" strokeWidth={3.5} />
      ))}

      {redLine(lP(pressure302), "p302")}
      <path d={lP(pressure307) || ""} fill="none" stroke={PURPLE} strokeWidth={4} strokeLinejoin="round" />
      {redLine(lF(flow302), "f302")}
      <path d={lF(flow307) || ""} fill="none" stroke={PURPLE} strokeWidth={4} strokeLinejoin="round" />

      <path d={lB(maler834) || ""} fill="none" stroke={PINK} strokeWidth={3} strokeLinejoin="round" />
      {maler834.map((d, i) => (
        <path key={"m834" + i} transform={`translate(${x(d[0])},${yB(d[1])})`} d="M0,-5L4.5,3.5L-4.5,3.5Z" fill="none" stroke="#e8a0c8" strokeWidth={1} />
      ))}
      <path d={lB(maler854) || ""} fill="none" stroke="#e6c040" strokeWidth={5} strokeLinejoin="round" />
      <path d={lB(maler854) || ""} fill="none" stroke={ORANGE} strokeWidth={3} strokeLinejoin="round" />
      {maler854.map((d, i) => (
        <path key={"m854" + i} transform={`translate(${x(d[0])},${yB(d[1])})`} d="M-2,-6H2V-2H6V2H2V6H-2V2H-6V-2H-2Z" fill="none" stroke="#f0a070" strokeWidth={1} />
      ))}
      <path d={lB(maler833) || ""} fill="none" stroke={PURPLE} strokeWidth={3.5} strokeLinejoin="round" />
      {maler833.map((d, i) => (
        <path key={"m833" + i} transform={`translate(${x(d[0])},${yB(d[1])})`} d={starPath(6)} fill="none" stroke="#9a70c0" strokeWidth={1} />
      ))}
      <path d={lB(maler809) || ""} fill="none" stroke="#c8402a" strokeWidth={5} strokeLinejoin="round" />
      {maler809.map((d, i) => (
        <rect key={"m809" + i} x={x(d[0]) - 5} y={yB(d[1]) - 8} width={10} height={16} fill="#c8402a" stroke="#9a2a18" strokeWidth={1} />
      ))}
      <path d={lB(maler804) || ""} fill="none" stroke="#2a2a2a" strokeWidth={2.5} strokeLinejoin="round" />
      {maler804.map((d, i) => (
        <g key={"m804" + i}>
          <circle cx={x(d[0])} cy={yB(d[1])} r={6.5} fill="#8a8a8a" stroke="#1e1e1e" strokeWidth={1.6} />
          <line x1={x(d[0]) - 4} x2={x(d[0]) + 4} y1={yB(d[1])} y2={yB(d[1])} stroke="#1e1e1e" strokeWidth={1.2} />
        </g>
      ))}
      <path d={lB(maler685) || ""} fill="none" stroke={YELLOW} strokeWidth={6} strokeLinejoin="round" />
      <path d={lB(maler685) || ""} fill="none" stroke={GREEN} strokeWidth={4} strokeLinejoin="round" />
      {maler685.map((d, i) => (
        <path key={"m685" + i} transform={`translate(${x(d[0])},${yB(d[1])})`} d="M-7,-5L7,-5L0,8Z" fill={GREEN} stroke={YELLOW} strokeWidth={1.5} />
      ))}

      {rightLabelLayout.map((l, i) => (
        <text key={"rl" + i} x={l.x} y={l.y} fontSize={l.s} fontWeight={l.b ? "bold" : "normal"} fontStyle={l.i ? "italic" : "normal"} fill={l.c}>{l.t}</text>
      ))}

      {/* ===== Legend ===== */}
      <line x1={542} x2={670} y1={1875} y2={1875} stroke={PURPLE} strokeWidth={5} />
      <path transform="translate(605,1875)" d={starPath(16)} fill="none" stroke="#a080c8" strokeWidth={1.2} />
      <text x={683} y={1882} fontSize={20} fill="#1a1a1a">{legendTexts[0]}</text>
      <line x1={539} x2={674} y1={1930} y2={1930} stroke={PINK} strokeWidth={5} />
      <path transform="translate(605,1930)" d="M0,-16L9,10L-9,10Z" fill="none" stroke="#f0b8d8" strokeWidth={1} />
      <text x={686} y={1937} fontSize={20} fill="#1a1a1a">{legendTexts[1]}</text>
      <text x={201} y={1960} fontSize={16} fill="#1a1a1a">{wellLegend[0]}</text>
      <line x1={70} x2={190} y1={1975} y2={1975} stroke="#e3bf52" strokeWidth={7} />
      <line x1={70} x2={190} y1={1976} y2={1976} stroke={RED} strokeWidth={4.5} />
      <text x={201} y={1981} fontSize={16} fill="#1a1a1a">{wellLegend[1]}</text>
      <line x1={70} x2={190} y1={1997} y2={1997} stroke={PURPLE} strokeWidth={5} />
      <text x={201} y={2003} fontSize={16} fill="#1a1a1a">{wellLegend[2]}</text>
      <line x1={539} x2={665} y1={2008} y2={2008} stroke="#e6c040" strokeWidth={7} />
      <line x1={539} x2={665} y1={2009} y2={2009} stroke={ORANGE} strokeWidth={4} />
      <path transform="translate(598,2008)" d="M-5,-16H5V-5H16V5H5V16H-5V5H-16V-5H-5Z" fill="none" stroke="#f09060" strokeWidth={1.2} />
      <text x={666} y={2014} fontSize={17} fill="#1a1a1a">{legendTexts[2]}</text>
      <line x1={533} x2={665} y1={2073} y2={2073} stroke="#1e1e1e" strokeWidth={4.5} />
      <ellipse cx={596} cy={2073} rx={16} ry={24} fill="#fff" stroke="#1e1e1e" strokeWidth={2} />
      <ellipse cx={596} cy={2073} rx={16} ry={24} fill="url(#diag)" stroke="#1e1e1e" strokeWidth={2} />
      <line x1={580} x2={612} y1={2073} y2={2073} stroke="#1e1e1e" strokeWidth={4.5} />
      <text x={677} y={2080} fontSize={20} fill="#1a1a1a">{legendTexts[3]}</text>
      <line x1={527} x2={656} y1={2156} y2={2156} stroke="#e3bf52" strokeWidth={6} />
      <line x1={527} x2={656} y1={2157} y2={2157} stroke="#c8402a" strokeWidth={3.5} />
      <rect x={572} y={2137} width={40} height={38} fill="#fff" stroke="#c0392b" strokeWidth={1.5} />
      <rect x={572} y={2137} width={40} height={38} fill="url(#vh)" />
      <text x={668} y={2164} fontSize={20} fill="#1a1a1a">{legendTexts[4]}</text>
      <line x1={527} x2={656} y1={2201} y2={2201} stroke={YELLOW} strokeWidth={8} />
      <line x1={527} x2={656} y1={2203} y2={2203} stroke={GREEN} strokeWidth={4} />
      <path d="M556,2186L628,2186L592,2220Z" fill="#3a8a2a" stroke={YELLOW} strokeWidth={2} />
      <text x={668} y={2209} fontSize={20} fill="#1a1a1a">{legendTexts[5]}</text>
    </svg>
  );
}
